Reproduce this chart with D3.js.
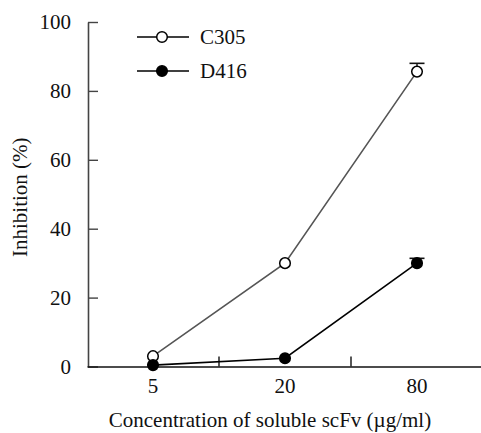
<!DOCTYPE html>
<html>
<head>
<meta charset="utf-8">
<script src="https://cdn.jsdelivr.net/npm/d3@7"></script>
<style>
  body { margin: 0; background: #fff; }
  svg { display: block; }
  svg text { font-family: "Liberation Serif", "Tinos", "Times New Roman", Times, "DejaVu Serif", serif; }
</style>
</head>
<body>
<svg class="chart"></svg>
<script>
const width = 481;
const height = 433;

// data
const concentrations = ["5", "20", "80"];
const c305 = [3, 30, 85.6];
const c305Err = [0, 0, 2.4];
const d416 = [0.4, 2.4, 30];
const d416Err = [0, 0, 1.4];
const yTicks = [0, 20, 40, 60, 80, 100];

const margin = { top: 22, left: 88, bottom: 66, right: -2 };

let svg = d3.select("svg.chart")
    .attr("width", width)
    .attr("height", height);

let x = d3.scaleBand()
    .domain(concentrations)
    .range([margin.left - 1, width - margin.right]);

let y = d3.scaleLinear()
    .domain([0, 100])
    .range([height - margin.bottom - 0.5, margin.top]);

// y axis, ticks pointing inward
let yAxis = svg.append("g")
    .attr("transform", `translate(${margin.left}, 0)`)
    .call(d3.axisLeft(y).tickValues(yTicks).tickSize(-10).tickSizeOuter(0).tickPadding(17));

yAxis.attr("font-family", null);
yAxis.select(".domain").attr("stroke", "#444").attr("stroke-width", 1.6);
yAxis.selectAll(".tick line").attr("stroke", "#444").attr("stroke-width", 1.4);
yAxis.selectAll("text")
    .attr("font-size", 21)
    .attr("fill", "#111");

// x axis
let yBase = y(0);
let xAxis = svg.append("g")
    .attr("transform", `translate(0, ${yBase})`)
    .call(d3.axisBottom(x).tickSize(0).tickSizeOuter(0).tickPadding(12));

xAxis.attr("font-family", null);
xAxis.select(".domain").attr("stroke", "#111").attr("stroke-width", 1.6);
xAxis.selectAll("text")
    .attr("font-size", 21)
    .attr("fill", "#111");

// small upward ticks between categories
xAxis.selectAll(".sep")
    .data(concentrations.slice(0, -1))
    .enter().append("line")
    .attr("class", "sep")
    .attr("x1", d => x(d) + x.bandwidth())
    .attr("x2", d => x(d) + x.bandwidth())
    .attr("y1", 0)
    .attr("y2", -10)
    .attr("stroke", "#111")
    .attr("stroke-width", 1.4);

// axis titles
svg.append("text")
    .attr("transform", `translate(27, ${(y(0) + y(100)) / 2 + 3}) rotate(-90)`)
    .attr("text-anchor", "middle")
    .attr("font-size", 21)
    .attr("fill", "#111")
    .text("Inhibition (%)");

svg.append("text")
    .attr("x", 270)
    .attr("y", 427)
    .attr("text-anchor", "middle")
    .attr("font-size", 21)
    .attr("fill", "#111")
    .text("Concentration of soluble scFv (\u00b5g/ml)");

let cx = (d, i) => x(concentrations[i]) + x.bandwidth() / 2;

let line = d3.line()
    .x((d, i) => cx(d, i))
    .y(d => y(d));

function drawSeries(values, errs, lineColor, fill) {
    let g = svg.append("g");

    g.append("path")
        .datum(values)
        .attr("fill", "none")
        .attr("stroke", lineColor)
        .attr("stroke-width", 1.6)
        .attr("d", line);

    // upward error bars
    let eb = g.selectAll(".err")
        .data(values.map((v, i) => ({ v: v, e: errs[i], i: i })).filter(d => d.e > 0))
        .enter().append("g");
    eb.append("line")
        .attr("x1", d => cx(d, d.i)).attr("x2", d => cx(d, d.i))
        .attr("y1", d => y(d.v)).attr("y2", d => y(d.v + d.e))
        .attr("stroke", "#111").attr("stroke-width", 1.4);
    eb.append("line")
        .attr("x1", d => cx(d, d.i) - 7.5).attr("x2", d => cx(d, d.i) + 7.5)
        .attr("y1", d => y(d.v + d.e)).attr("y2", d => y(d.v + d.e))
        .attr("stroke", "#111").attr("stroke-width", 1.6);

    g.selectAll("circle")
        .data(values)
        .enter().append("circle")
        .attr("cx", (d, i) => cx(d, i))
        .attr("cy", d => y(d))
        .attr("r", 5.3)
        .attr("fill", fill)
        .attr("stroke", "#000")
        .attr("stroke-width", 1.5);
}

drawSeries(c305, c305Err, "#555", "#fff");
drawSeries(d416, d416Err, "#000", "#000");

// legend
const legendNames = ["C305", "D416"];
const legendFills = ["#fff", "#000"];
let legend = svg.selectAll(".legend")
    .data(legendNames)
    .enter().append("g")
    .attr("class", "legend")
    .attr("transform", (d, i) => `translate(137, ${37 + i * 34})`);

legend.append("line")
    .attr("x1", 0).attr("x2", 52)
    .attr("stroke", "#000").attr("stroke-width", 1.5);
legend.append("circle")
    .attr("cx", 25).attr("r", 5.3)
    .attr("fill", (d, i) => legendFills[i])
    .attr("stroke", "#000").attr("stroke-width", 1.5);
legend.append("text")
    .attr("x", 63)
    .attr("dy", "0.35em")
    .attr("font-size", 21)
    .attr("fill", "#111")
    .text(d => d);
</script>
</body>
</html>
